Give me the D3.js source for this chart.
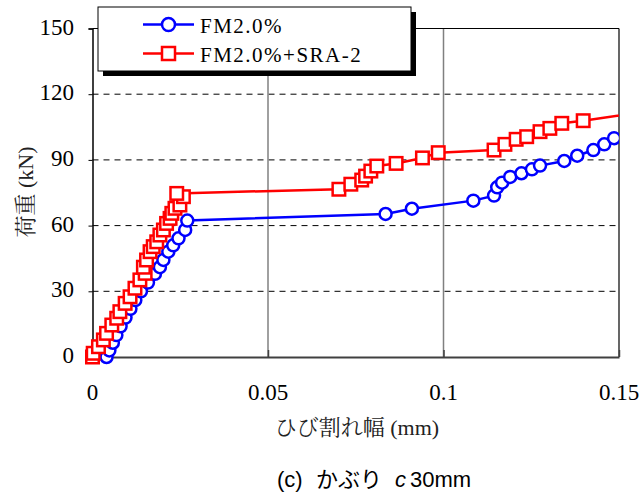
<!DOCTYPE html>
<html><head><meta charset="utf-8">
<script src="https://cdn.jsdelivr.net/npm/d3@7"></script>
<style>body{margin:0;background:#fff}svg{display:block}
.serif{font-family:"Liberation Serif","Times New Roman",Tinos,"DejaVu Serif","Noto Serif","Noto Serif CJK JP","Noto Sans CJK JP",serif}
.sans{font-family:"Liberation Sans",Arial,"Noto Sans CJK JP",sans-serif}
</style>
</head><body>
<script>
// ---- data ----
const seriesNames = ["FM2.0%", "FM2.0%+SRA-2"];
const fmX = [0.004,0.0048,0.0058,0.0068,0.008,0.0094,0.0108,0.0122,0.0138,0.0158,0.0178,0.0192,0.0202,0.0216,0.023,0.0245,0.0264,0.027,0.0835,0.091,0.1085,0.1144,0.1153,0.1167,0.119,0.1222,0.1252,0.1275,0.1344,0.1381,0.1427,0.1458,0.1486,0.1525];
const fmY = [0,3,6.5,10,14,18,22,26,30,34,38,41,44.3,48.1,51,54.2,58,62.3,65.3,67.7,71.4,73.7,77.5,79.6,82.2,83.9,85.7,87.4,89.5,91.9,94.5,97.1,99.9,102.5];
const sraX = [0,0.0002,0.0017,0.0031,0.004,0.0055,0.0069,0.0078,0.0093,0.0107,0.0121,0.0135,0.015,0.0145,0.0154,0.0164,0.0173,0.0183,0.0192,0.0202,0.0211,0.0221,0.0226,0.0235,0.0249,0.0259,0.024,0.0702,0.0736,0.0767,0.0778,0.0793,0.081,0.0865,0.094,0.0985,0.1144,0.1175,0.1207,0.1237,0.1275,0.1303,0.1337,0.1398,0.156];
const sraY = [0,1.7,4.7,7.8,10.8,14.6,17.7,20.7,24.5,27.5,31.4,35.2,38.2,41,44.3,48.1,50.4,52.6,55.7,58,61,63.3,65.6,67.9,69.4,73.2,74.7,76.6,78.9,80.8,82.6,84.9,87.2,88.4,90.9,93.3,94.5,97.1,99.4,100.6,102.9,104.4,106.7,107.9,111.6];
const xTicks = [0, 0.05, 0.1, 0.15];
const xTickLabels = ["0", "0.05", "0.1", "0.15"];
const yTicks = [0, 30, 60, 90, 120, 150];
const xTitle = "ひび割れ幅 (mm)";
const yTitle = "荷重 (kN)";

const W = 644, H = 495;
const L = 92.5, R = 619, T = 28.5, B = 357;
const x = d3.scaleLinear().domain([0, 0.15]).range([L, R]);
const y = d3.scaleLinear().domain([0, 150]).range([B, T]);

const svg = d3.select("body").append("svg").attr("width", W).attr("height", H);

svg.append("clipPath").attr("id","clip").append("rect")
  .attr("x", 0).attr("y", 0).attr("width", R).attr("height", H);

// grid
svg.append("g").selectAll("line").data(yTicks.filter(v => v > 0 && v < 150)).join("line")
  .attr("x1", L).attr("x2", R).attr("y1", d => y(d)).attr("y2", d => y(d))
  .attr("stroke", "#000").attr("stroke-width", 1).attr("stroke-dasharray", "6,5");
svg.append("g").selectAll("line").data(xTicks.filter(v => v > 0 && v < 0.15)).join("line")
  .attr("x1", d => x(d)).attr("x2", d => x(d)).attr("y1", T).attr("y2", B)
  .attr("stroke", "#808080").attr("stroke-width", 1.5);

// frame
svg.append("line").attr("x1", L).attr("x2", R).attr("y1", T).attr("y2", T).attr("stroke", "#000").attr("stroke-width", 1);
svg.append("line").attr("x1", R).attr("x2", R).attr("y1", T).attr("y2", B).attr("stroke", "#000").attr("stroke-width", 1.2);

// axes
const yAxis = d3.axisLeft(y).tickValues(yTicks).tickSize(4).tickFormat("");
const gy = svg.append("g").attr("transform", `translate(${L},0)`).call(yAxis);
gy.select(".domain").attr("stroke", "#000").attr("stroke-width", 1.5);
gy.selectAll(".tick line").attr("stroke", "#000");
const xAxis = d3.axisBottom(x).tickValues(xTicks).tickSizeInner(-7).tickSizeOuter(0).tickFormat("");
const gx = svg.append("g").attr("transform", `translate(0,${B})`).call(xAxis);
gx.select(".domain").attr("stroke", "#404040").attr("stroke-width", 2);
gx.selectAll(".tick line").attr("stroke", "#404040").attr("stroke-width", 1.5);

// tick labels
svg.append("g").selectAll("text").data(yTicks).join("text").attr("class", "serif")
  .attr("x", 74).attr("y", d => y(d) + 6).attr("text-anchor", "end")
  .style("font-size", "23px")
  .text(d => d);
svg.append("g").selectAll("text").data(xTicks).join("text").attr("class", "serif")
  .attr("x", d => x(d)).attr("y", 400).attr("text-anchor", "middle")
  .style("font-size", "23px")
  .text((d, i) => xTickLabels[i]);

// titles
svg.append("text").attr("class", "serif").attr("x", 357).attr("y", 435).attr("text-anchor", "middle")
  .style("font-size", "22px").attr("fill", "#222").text(xTitle);
svg.append("text").attr("class", "serif").attr("transform", "translate(33,192) rotate(-90)").attr("text-anchor", "middle")
  .style("font-size", "22px").attr("fill", "#222").text(yTitle);

// caption
const cap = svg.append("text").attr("class", "sans").attr("y", 487)
  .style("font-size", "22px").attr("fill", "#000");
cap.append("tspan").attr("x", 277).text("(c)");
cap.append("tspan").attr("x", 316).text("かぶり");
cap.append("tspan").attr("x", 395).style("font-style", "italic").text("c");
cap.append("tspan").attr("x", 410).text("30mm");

// series
const fm = fmX.map((v, i) => [v, fmY[i]]);
const sra = sraX.map((v, i) => [v, sraY[i]]);
const line = d3.line().x(d => x(d[0])).y(d => y(d[1]));
const plot = svg.append("g").attr("clip-path", "url(#clip)");

plot.append("path").datum(fm).attr("d", line).attr("fill", "none").attr("stroke", "#0000ff").attr("stroke-width", 2.5);
plot.append("g").selectAll("circle").data(fm).join("circle")
  .attr("cx", d => x(d[0])).attr("cy", d => y(d[1])).attr("r", 6)
  .attr("fill", "#fff").attr("stroke", "#0000ff").attr("stroke-width", 2.5);

plot.append("path").datum(sra).attr("d", line).attr("fill", "none").attr("stroke", "#ff0000").attr("stroke-width", 2.5);
const s = 12.5;
plot.append("g").selectAll("rect").data(sra).join("rect")
  .attr("x", d => x(d[0]) - s/2).attr("y", d => y(d[1]) - s/2).attr("width", s).attr("height", s)
  .attr("fill", "#fff").attr("stroke", "#ff0000").attr("stroke-width", 2.5);

// legend
const lg = svg.append("g");
lg.append("rect").attr("x", 103).attr("y", 12).attr("width", 313).attr("height", 64).attr("fill", "#000");
lg.append("rect").attr("x", 98).attr("y", 7).attr("width", 313).attr("height", 64).attr("fill", "#fff").attr("stroke", "#000").attr("stroke-width", 1);
const rows = [{name: seriesNames[0], c: "#0000ff", yy: 24.5, shape: "circle"}, {name: seriesNames[1], c: "#ff0000", yy: 53.5, shape: "square"}];
rows.forEach(r => {
  lg.append("line").attr("x1", 143).attr("x2", 194).attr("y1", r.yy).attr("y2", r.yy).attr("stroke", r.c).attr("stroke-width", 2.5);
  if (r.shape === "circle") {
    lg.append("circle").attr("cx", 168.5).attr("cy", r.yy).attr("r", 6.5).attr("fill", "#fff").attr("stroke", r.c).attr("stroke-width", 2.5);
  } else {
    lg.append("rect").attr("x", 168.5 - 6.5).attr("y", r.yy - 6.5).attr("width", 13).attr("height", 13).attr("fill", "#fff").attr("stroke", r.c).attr("stroke-width", 2.5);
  }
  lg.append("text").attr("class", "serif").attr("x", 200).attr("y", r.yy + 8).style("font-size", "21px").style("letter-spacing", "1.5px").text(r.name);
});
</script>
</body></html>
